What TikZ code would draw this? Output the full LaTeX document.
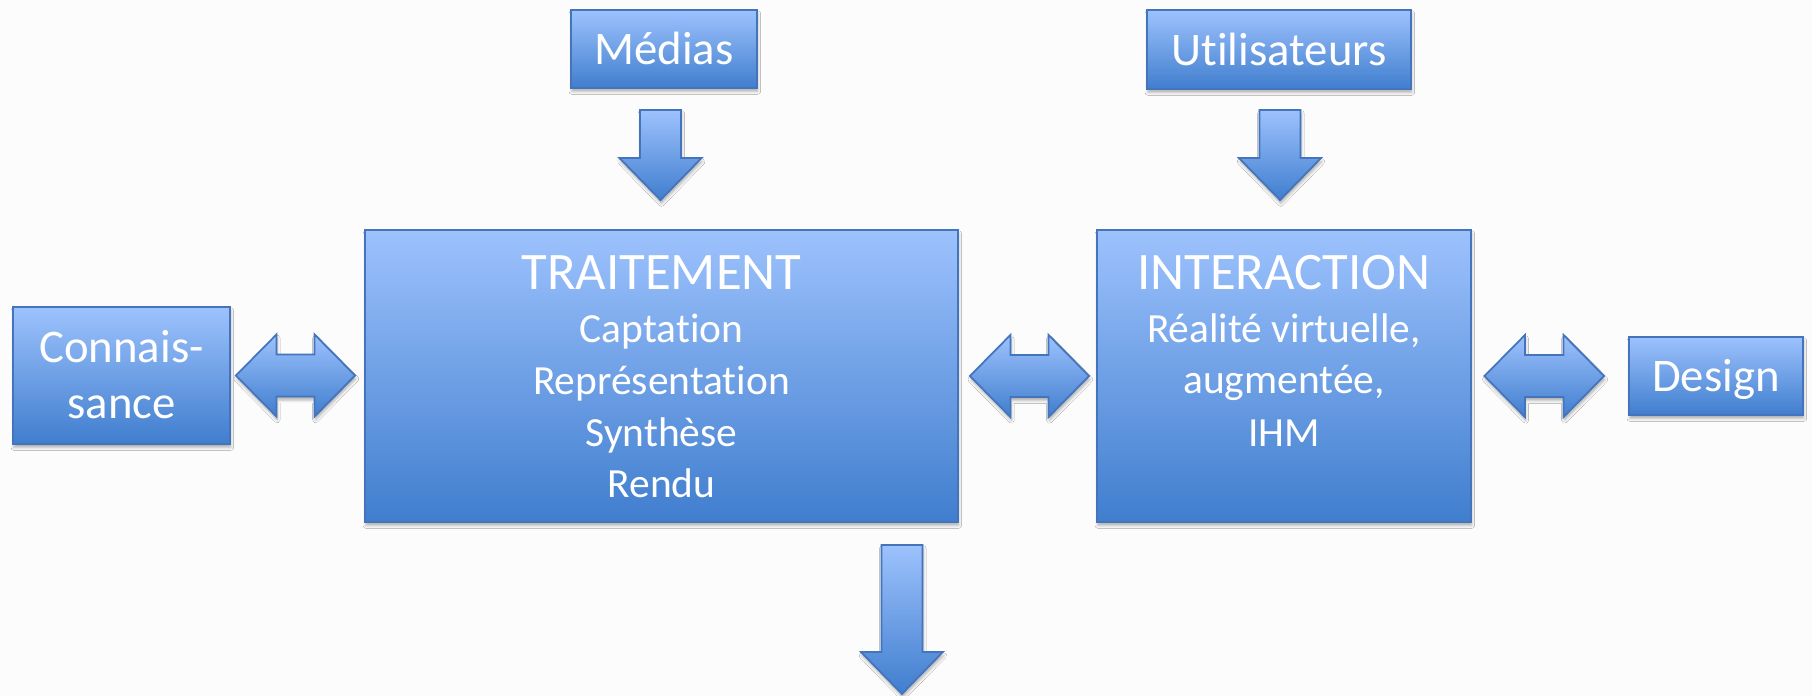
\documentclass[tikz,border=0pt]{standalone}
\usepackage{fontspec}
\setmainfont{Carlito}[Ligatures={NoCommon}]
\usetikzlibrary{calc,shadows.blur}

\definecolor{bgc}{RGB}{252,252,252}
\definecolor{topc}{RGB}{157,194,253}
\definecolor{botc}{RGB}{64,126,206}
\definecolor{edgec}{RGB}{68,116,188}

\tikzset{
  shad/.style={blur shadow={shadow xshift=0.5pt, shadow yshift=-2pt, shadow blur radius=1.6pt, shadow opacity=30}},
  box/.style={draw=edgec, line width=1.1pt, top color=topc, bottom color=botc, shad,
    text=white, font=\fontsize{26.6}{31.8}\selectfont,
    text height=0.64cm, text depth=0pt, inner sep=0pt},
  lbl/.style={text=white, anchor=base, inner sep=0pt},
  bigtxt/.style={lbl, font=\fontsize{26.6}{31.8}\selectfont},
  headtxt/.style={lbl, font=\fontsize{30}{36}\selectfont},
  subtxt/.style={lbl, font=\fontsize{23.6}{29}\selectfont},
  blk/.style={draw=edgec, line width=1pt, top color=topc, bottom color=botc, line join=miter, shad},
}

\newcommand\downarr[2]{\shade[blk] let \p1=(#1), \p2=(#2) in
  (\x1-0.41cm,\y1) -- (\x1+0.41cm,\y1) -- (\x1+0.41cm,\y2+0.84cm) -- (\x1+0.82cm,\y2+0.84cm)
  -- (\x1,\y2) -- (\x1-0.82cm,\y2+0.84cm) -- (\x1-0.41cm,\y2+0.84cm) -- cycle;}

\newcommand\dblarr[2]{\shade[blk] let \p1=(#1), \p2=(#2) in
  (\x1,\y1) -- (\x1+0.81cm,\y1+0.82cm) -- (\x1+0.81cm,\y1+0.42cm) -- (\x2-0.81cm,\y1+0.42cm)
  -- (\x2-0.81cm,\y1+0.82cm) -- (\x2,\y1) -- (\x2-0.81cm,\y1-0.82cm) -- (\x2-0.81cm,\y1-0.42cm)
  -- (\x1+0.81cm,\y1-0.42cm) -- (\x1+0.81cm,\y1-0.82cm) -- cycle;}

\begin{document}
\begin{tikzpicture}[x=0.02cm, y=-0.02cm]
  \fill[bgc] (0,0) rectangle (1812,696);
  \useasboundingbox (0,0) rectangle (1812,696);

  % boxes
  \node[box, minimum width=3.72cm, minimum height=1.56cm] (med) at (664,49) {Médias};
  \node[box, minimum width=5.28cm, minimum height=1.58cm] (uti) at (1279,49.5) {Utilisateurs};
  \node[box, minimum width=11.86cm, minimum height=5.84cm] (trait) at (661.5,376) {};
  \node[box, minimum width=7.48cm, minimum height=5.84cm] (inter) at (1284,376) {};
  \node[box, minimum width=4.34cm, minimum height=2.74cm] (conn) at (121.5,375.5) {};
  \node[box, minimum width=3.48cm, minimum height=1.56cm] (des) at (1716,376) {Design};

  % texts
  \node[bigtxt] (c1) at ($(conn.north)+(0,56)$) {Connais-};
  \node[bigtxt] (c2) at ($(conn.north)+(0,112)$) {sance};

  \node[headtxt] (t0) at ($(trait.north)+(0,60)$) {TRAITEMENT};
  \node[subtxt] (t1) at ($(trait.north)+(0,113)$) {Captation};
  \node[subtxt] (t2) at ($(trait.north)+(0,165)$) {Représentation};
  \node[subtxt] (t3) at ($(trait.north)+(0,217)$) {Synthèse};
  \node[subtxt] (t4) at ($(trait.north)+(0,268)$) {Rendu};

  \node[headtxt] (i0) at ($(inter.north)+(0,60)$) {INTERACTION};
  \node[subtxt] (i1) at ($(inter.north)+(0,113)$) {Réalité virtuelle,};
  \node[subtxt] (i2) at ($(inter.north)+(0,164)$) {augmentée,};
  \node[subtxt] (i3) at ($(inter.north)+(0,217)$) {IHM};

  % down arrows
  \coordinate (m1) at ($(med.south)+(-3.5,21)$);
  \coordinate (m2) at ($(trait.north)+(-1,-29)$);
  \downarr{m1}{m2}
  \coordinate (u1) at ($(uti.south)+(1,20)$);
  \coordinate (u2) at ($(inter.north)+(-4,-29)$);
  \downarr{u1}{u2}
  \coordinate (b1) at ($(trait.south east)+(-57,22)$);
  \coordinate (b2) at ($(trait.south east)+(-57,171)$);
  \downarr{b1}{b2}

  % double arrows
  \coordinate (d1) at ($(conn.east)+(5,0)$);
  \coordinate (d2) at ($(trait.west)+(-9,0)$);
  \dblarr{d1}{d2}
  \coordinate (d3) at ($(trait.east)+(11,0)$);
  \coordinate (d4) at ($(inter.west)+(-7,0)$);
  \dblarr{d3}{d4}
  \coordinate (d5) at ($(inter.east)+(12.5,0)$);
  \coordinate (d6) at ($(des.west)+(-24,0)$);
  \dblarr{d5}{d6}
\end{tikzpicture}
\end{document}
